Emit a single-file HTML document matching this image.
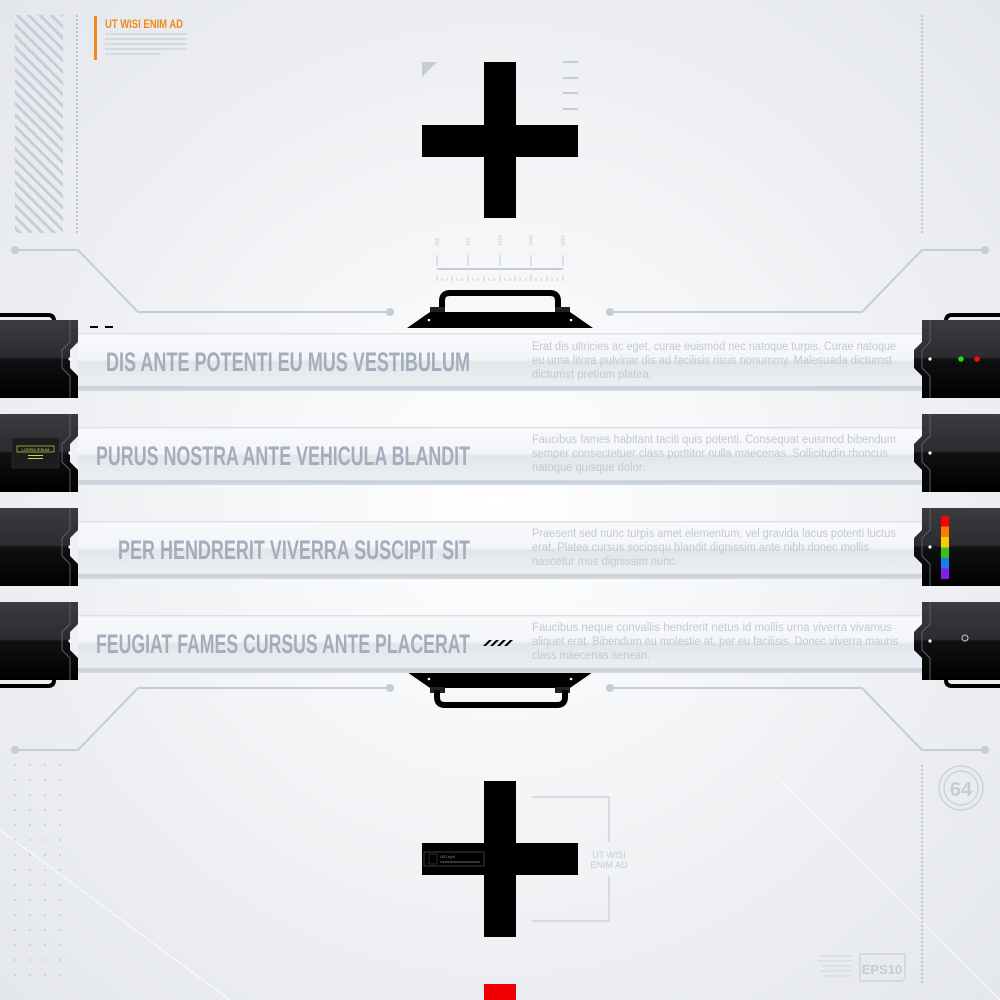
<!DOCTYPE html>
<html><head><meta charset="utf-8"><style>
html,body{margin:0;padding:0;width:1000px;height:1000px;overflow:hidden;background:#f2f3f5}
svg{display:block}
.h{font-family:"Liberation Sans Narrow","Liberation Sans",sans-serif;font-weight:bold;fill:#a3adbb;font-size:27px}
.b{font-family:"Liberation Sans",sans-serif;fill:#c3c9d2;font-size:11.5px}
</style></head><body>
<svg width="1000" height="1000" viewBox="0 0 1000 1000" xmlns="http://www.w3.org/2000/svg">
<defs>
<radialGradient id="bg" cx="0.5" cy="0.5" r="0.75"><stop offset="0" stop-color="#ffffff"/><stop offset="1" stop-color="#e2e5ea"/></radialGradient>
<linearGradient id="band" x1="0" y1="0" x2="0" y2="1">
<stop offset="0" stop-color="#d3d9e1"/><stop offset="0.04" stop-color="#f8f9fb"/><stop offset="0.45" stop-color="#f4f5f8"/><stop offset="0.5" stop-color="#e2e6eb"/><stop offset="0.9" stop-color="#eceef2"/><stop offset="0.93" stop-color="#c6ced8"/><stop offset="1" stop-color="#d6dbe2"/></linearGradient>
<linearGradient id="blk" x1="0" y1="0" x2="0" y2="1"><stop offset="0" stop-color="#3a3c40"/><stop offset="0.48" stop-color="#2a2c2f"/><stop offset="0.5" stop-color="#101112"/><stop offset="1" stop-color="#000"/></linearGradient>
<pattern id="hatch" width="8" height="8" patternUnits="userSpaceOnUse" patternTransform="rotate(-45)"><rect width="3" height="8" fill="#c8ced8"/></pattern>
<g id="lb"><path d="M0 0H78V22L70 30V48L78 56V78H0Z" fill="url(#blk)"/><path d="M70 0V22L62 30V48L70 56V78" fill="none" stroke="#5a5e66" stroke-width="1"/><circle cx="70" cy="39" r="1.6" fill="#fff"/></g>
<g id="rb"><path d="M1000 0H922V22L914 30V48L922 56V78H1000Z" fill="url(#blk)"/><path d="M930 0V22L922 30V48L930 56V78" fill="none" stroke="#5a5e66" stroke-width="1"/><circle cx="930" cy="39" r="1.6" fill="#fff"/></g>
</defs>
<rect width="1000" height="1000" fill="url(#bg)"/>
<path d="M0 830L230 1000M780 780L1000 1000M330 400L420 300" stroke="#fff" stroke-width="1.5" opacity="0.6"/>
<rect x="15" y="15" width="48" height="218" fill="url(#hatch)"/>
<line x1="77" y1="15" x2="77" y2="233" stroke="#c0c7d1" stroke-width="2" stroke-dasharray="2 2"/>
<rect x="94" y="16" width="3" height="44" fill="#f08a1c"/>
<text x="105" y="28" font-family="Liberation Sans Narrow,Liberation Sans,sans-serif" font-size="12" font-weight="bold" fill="#f08a1c" textLength="78" lengthAdjust="spacingAndGlyphs">UT WISI ENIM AD</text>
<g fill="#d5dae1"><rect x="105" y="33" width="82" height="2"/><rect x="105" y="38" width="82" height="2"/><rect x="105" y="43" width="82" height="2"/><rect x="105" y="48" width="82" height="2"/><rect x="105" y="53" width="55" height="2"/></g>
<line x1="922" y1="15" x2="922" y2="233" stroke="#c0c7d1" stroke-width="2" stroke-dasharray="2 2"/>
<g stroke="#c5ccd6" stroke-width="2" fill="none">
<path d="M15 250H78L138 312H390"/><path d="M985 250H922L862 312H610"/>
<path d="M15 750H78L138 688H390"/><path d="M985 750H922L862 688H610"/>
</g>
<g fill="#c5ccd6"><circle cx="15" cy="250" r="4"/><circle cx="390" cy="312" r="4"/><circle cx="985" cy="250" r="4"/><circle cx="610" cy="312" r="4"/><circle cx="15" cy="750" r="4"/><circle cx="390" cy="688" r="4"/><circle cx="985" cy="750" r="4"/><circle cx="610" cy="688" r="4"/></g>
<path d="M422 62H437L422 77Z" fill="#c5ccd6"/>
<g stroke="#c5ccd6" stroke-width="2"><line x1="563" y1="62" x2="578" y2="62"/><line x1="563" y1="78" x2="578" y2="78"/><line x1="563" y1="93" x2="578" y2="93"/><line x1="563" y1="109" x2="578" y2="109"/></g>
<rect x="484" y="62" width="32" height="156" fill="#000"/><rect x="422" y="125" width="156" height="32" fill="#000"/>
<g stroke="#c5ccd6" stroke-width="1"><line x1="437" y1="269" x2="563" y2="269" stroke-width="2"/>
<line x1="437" y1="255" x2="437" y2="266"/><line x1="468" y1="255" x2="468" y2="266"/><line x1="500" y1="255" x2="500" y2="266"/><line x1="531" y1="255" x2="531" y2="266"/><line x1="563" y1="255" x2="563" y2="266"/>
<path d="M437 281V275M442 281V278M447 281V278M452 281V276M457 281V278M462 281V278M468 281V275M473 281V278M478 281V278M484 281V276M489 281V278M494 281V278M500 281V275M505 281V278M510 281V278M515 281V276M520 281V278M526 281V278M531 281V275M536 281V278M541 281V278M547 281V276M552 281V278M557 281V278M563 281V275"/></g>
<g font-family="Liberation Sans,sans-serif" font-size="5" fill="#c5ccd6"><text transform="translate(439,246) rotate(-90)">256</text><text transform="translate(470,246) rotate(-90)">512</text><text transform="translate(502,246) rotate(-90)">1024</text><text transform="translate(533,246) rotate(-90)">2048</text><text transform="translate(565,246) rotate(-90)">4096</text></g>
<path d="M442 310V301Q442 293 450 293H550Q558 293 558 301V310" fill="none" stroke="#000" stroke-width="6"/>
<rect x="430" y="307" width="15" height="6" fill="#222"/><rect x="555" y="307" width="15" height="6" fill="#222"/>
<path d="M407 328L430 312H570L593 328Z" fill="#000"/><circle cx="429" cy="320" r="1.3" fill="#fff"/><circle cx="571" cy="320" r="1.3" fill="#fff"/>
<path d="M407 672L430 688H570L593 672Z" fill="#000"/><circle cx="429" cy="679" r="1.3" fill="#fff"/><circle cx="571" cy="679" r="1.3" fill="#fff"/>
<rect x="430" y="687" width="15" height="6" fill="#222"/><rect x="555" y="687" width="15" height="6" fill="#222"/>
<path d="M437 690V697Q437 705 445 705H557Q565 705 565 697V690" fill="none" stroke="#000" stroke-width="6"/>
<rect x="78" y="333" width="844" height="58" fill="url(#band)"/>
<rect x="78" y="427" width="844" height="58" fill="url(#band)"/>
<rect x="78" y="521" width="844" height="58" fill="url(#band)"/>
<rect x="78" y="615" width="844" height="58" fill="url(#band)"/>
<rect x="90" y="326" width="8" height="2" fill="#000"/><rect x="105" y="326" width="8" height="2" fill="#000"/>
<text class="h" x="470" y="371" text-anchor="end" textLength="364" lengthAdjust="spacingAndGlyphs">DIS ANTE POTENTI EU MUS VESTIBULUM</text>
<text class="h" x="470" y="465" text-anchor="end" textLength="374" lengthAdjust="spacingAndGlyphs">PURUS NOSTRA ANTE VEHICULA BLANDIT</text>
<text class="h" x="470" y="559" text-anchor="end" textLength="352" lengthAdjust="spacingAndGlyphs">PER HENDRERIT VIVERRA SUSCIPIT SIT</text>
<text class="h" x="470" y="653" text-anchor="end" textLength="374" lengthAdjust="spacingAndGlyphs">FEUGIAT FAMES CURSUS ANTE PLACERAT</text>
<g fill="#000"><path d="M483 646l6-6h3l-6 6z"/><path d="M490 646l6-6h3l-6 6z"/><path d="M497 646l6-6h3l-6 6z"/><path d="M504 646l6-6h3l-6 6z"/></g>
<g class="b">
<text x="532" y="350" textLength="364" lengthAdjust="spacingAndGlyphs">Erat dis ultricies ac eget, curae euismod nec natoque turpis. Curae natoque</text>
<text x="532" y="364" textLength="360" lengthAdjust="spacingAndGlyphs">eu urna litora pulvinar dis ad facilisis risus nonummy. Malesuada dictumst</text>
<text x="532" y="378" textLength="120" lengthAdjust="spacingAndGlyphs">dictumst pretium platea.</text>
<text x="532" y="443" textLength="364" lengthAdjust="spacingAndGlyphs">Faucibus fames habitant taciti quis potenti. Consequat euismod bibendum</text>
<text x="532" y="457" textLength="356" lengthAdjust="spacingAndGlyphs">semper consectetuer class porttitor nulla maecenas. Sollicitudin rhoncus</text>
<text x="532" y="471" textLength="113" lengthAdjust="spacingAndGlyphs">natoque quisque dolor.</text>
<text x="532" y="537" textLength="364" lengthAdjust="spacingAndGlyphs">Praesent sed nunc turpis amet elementum, vel gravida lacus potenti luctus</text>
<text x="532" y="551" textLength="337" lengthAdjust="spacingAndGlyphs">erat. Platea cursus sociosqu blandit dignissim ante nibh donec mollis</text>
<text x="532" y="565" textLength="146" lengthAdjust="spacingAndGlyphs">nascetur mus dignissim nunc.</text>
<text x="532" y="631" textLength="360" lengthAdjust="spacingAndGlyphs">Faucibus neque convallis hendrerit netus id mollis urna viverra vivamus</text>
<text x="532" y="645" textLength="366" lengthAdjust="spacingAndGlyphs">aliquet erat. Bibendum eu molestie at, per eu facilisis. Donec viverra mauris</text>
<text x="532" y="659" textLength="118" lengthAdjust="spacingAndGlyphs">class maecenas aenean.</text>
</g>
<path d="M0 315H48Q54 315 54 321" fill="none" stroke="#000" stroke-width="4"/>
<use href="#lb" transform="translate(0,320)"/>
<use href="#lb" transform="translate(0,414)"/>
<use href="#lb" transform="translate(0,508)"/>
<use href="#lb" transform="translate(0,602)"/>
<path d="M0 686H48Q54 686 54 680" fill="none" stroke="#000" stroke-width="4"/>
<rect x="12" y="438" width="47" height="30" fill="#1c1d1f" stroke="#333" stroke-width="0.5"/>
<rect x="17" y="446" width="37" height="6" fill="none" stroke="#c8d24a" stroke-width="0.7"/>
<text x="35.5" y="451" font-size="4" text-anchor="middle" fill="#c8d24a" font-family="Liberation Sans,sans-serif">LOREM IPSUM</text>
<rect x="28" y="455" width="15" height="1" fill="#c8d24a"/><rect x="28" y="458" width="15" height="1" fill="#c8d24a"/>
<path d="M1000 315H952Q946 315 946 321" fill="none" stroke="#000" stroke-width="4"/>
<use href="#rb" transform="translate(0,320)"/>
<use href="#rb" transform="translate(0,414)"/>
<use href="#rb" transform="translate(0,508)"/>
<use href="#rb" transform="translate(0,602)"/>
<path d="M1000 686H952Q946 686 946 680" fill="none" stroke="#000" stroke-width="4"/>
<circle cx="961" cy="359" r="2.8" fill="#1ed81e"/><circle cx="977" cy="359" r="2.8" fill="#f01010"/>
<rect x="941" y="516" width="8" height="10.5" fill="#f00"/><rect x="941" y="526.5" width="8" height="10.5" fill="#ff7a00"/><rect x="941" y="537" width="8" height="10.5" fill="#ffc800"/><rect x="941" y="547.5" width="8" height="10.5" fill="#3cbf1c"/><rect x="941" y="558" width="8" height="10.5" fill="#1a7cf0"/><rect x="941" y="568.5" width="8" height="10.5" fill="#8a1af0"/>
<circle cx="965" cy="638" r="3" fill="none" stroke="#ccc" stroke-width="1"/>
<g fill="#c5ccd6">
<g id="dr"><circle cx="15" cy="765" r="1"/><circle cx="30" cy="765" r="1"/><circle cx="45" cy="765" r="1"/><circle cx="60" cy="765" r="1"/></g>
<use href="#dr" y="15"/><use href="#dr" y="30"/><use href="#dr" y="45"/><use href="#dr" y="60"/><use href="#dr" y="75"/><use href="#dr" y="90"/><use href="#dr" y="105"/><use href="#dr" y="120"/><use href="#dr" y="135"/><use href="#dr" y="150"/><use href="#dr" y="165"/><use href="#dr" y="180"/><use href="#dr" y="195"/><use href="#dr" y="210"/>
</g>
<line x1="922" y1="765" x2="922" y2="985" stroke="#c0c7d1" stroke-width="2" stroke-dasharray="2 2"/>
<circle cx="961" cy="788" r="22" fill="none" stroke="#cdd3dc" stroke-width="1.5"/><circle cx="961" cy="788" r="17" fill="none" stroke="#cdd3dc" stroke-width="1.5"/>
<text x="961" y="796" text-anchor="middle" font-family="Liberation Sans Narrow,Liberation Sans,sans-serif" font-weight="bold" font-size="20" fill="#c5ccd6">64</text>
<path d="M860 954H905V978L902 981H860Z" fill="none" stroke="#cdd3dc" stroke-width="1.5"/>
<text x="882" y="974" text-anchor="middle" font-family="Liberation Sans Narrow,Liberation Sans,sans-serif" font-weight="bold" font-size="13" fill="#c5ccd6">EPS10</text>
<g fill="#dde1e7"><rect x="820" y="955" width="32" height="2"/><rect x="818" y="960" width="34" height="2"/><rect x="822" y="965" width="30" height="2"/><rect x="820" y="970" width="32" height="2"/><rect x="824" y="975" width="28" height="2"/></g>
<rect x="484" y="781" width="32" height="156" fill="#000"/><rect x="422" y="843" width="156" height="32" fill="#000"/>
<rect x="424" y="852" width="60" height="14" fill="none" stroke="#555" stroke-width="0.7"/>
<rect x="429" y="854" width="8" height="10" fill="none" stroke="#555" stroke-width="0.5"/>
<text x="440" y="858" font-size="3.5" fill="#999" font-family="Liberation Sans,sans-serif">LEO sq.ft</text>
<rect x="440" y="861" width="40" height="2" fill="#333"/>
<g stroke="#cdd3dc" stroke-width="1.5" fill="none"><path d="M532 797H609V842"/><path d="M532 921H609V876"/></g>
<text x="609" y="858" text-anchor="middle" font-family="Liberation Sans Narrow,Liberation Sans,sans-serif" font-size="9" fill="#c5ccd6">UT WISI</text>
<text x="609" y="868" text-anchor="middle" font-family="Liberation Sans Narrow,Liberation Sans,sans-serif" font-size="9" fill="#c5ccd6">ENIM AD</text>
<rect x="484" y="984" width="32" height="16" fill="#f00000"/>
</svg>
</body></html>
